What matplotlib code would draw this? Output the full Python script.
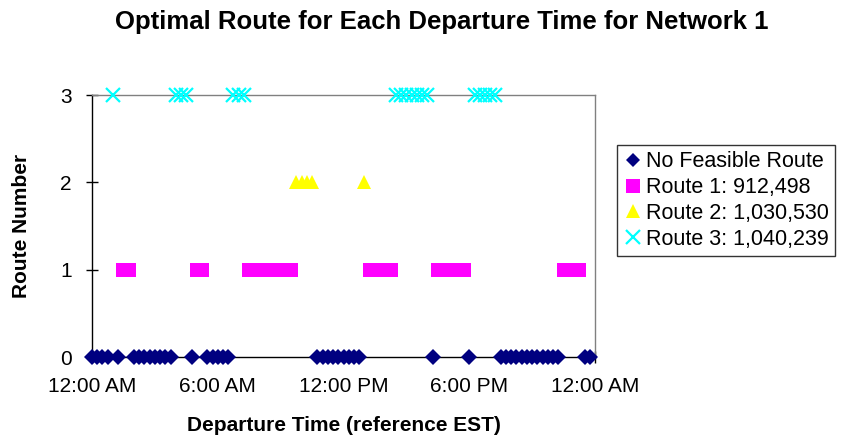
import numpy as np
import matplotlib.pyplot as plt

plt.rcParams['font.family'] = ['Liberation Sans', 'DejaVu Sans']

# route chosen for each 15-minute departure slot, starting 12:00 AM
# 0 = no feasible route, 1..3 = route number
route = [0, 0, 0, 0, 3, 0, 1, 1,
         0, 0, 0, 0, 0, 0, 0, 0,
         3, 3, 3, 0, 1, 1, 0, 0,
         0, 0, 0, 3, 3, 3, 1, 1,
         1, 1, 1, 1, 1, 1, 1, 2,
         2, 2, 2, 0, 0, 0, 0, 0,
         0, 0, 0, 0, 2, 1, 1, 1,
         1, 1, 3, 3, 3, 3, 3, 3,
         3, 0, 1, 1, 1, 1, 1, 1,
         0, 3, 3, 3, 3, 3, 0, 0,
         0, 0, 0, 0, 0, 0, 0, 0,
         0, 0, 1, 1, 1, 1, 0, 0]
slot_hours = 0.25
labels = ["No Feasible Route", "Route 1: 912,498",
          "Route 2: 1,030,530", "Route 3: 1,040,239"]
tick_hours = [0, 6, 12, 18, 24]
tick_labels = ["12:00 AM", "6:00 AM", "12:00 PM", "6:00 PM", "12:00 AM"]

route = np.array(route)
hours = np.arange(len(route)) * slot_hours

fig = plt.figure(figsize=(8.63, 4.38), dpi=100)
ax = fig.add_axes([0.1066, 0.1849, 0.5829, 0.5982])

styles = [
    dict(marker="D", color="#000080", markersize=7.8, markeredgewidth=0),
    dict(marker="s", color="#FF00FF", markersize=10.5, markeredgewidth=0),
    dict(marker="^", color="#FFFF00", markersize=10.5, markeredgewidth=0),
    dict(marker="x", color="#00FFFF", markersize=10, markeredgewidth=1.6),
]

for k in range(4):
    m = route == k
    ax.plot(hours[m], route[m], linestyle="none", label=labels[k],
            clip_on=False, zorder=3, **styles[k])

ax.set_xlim(0, 24)
ax.set_ylim(0, 3)
ax.set_xticks(tick_hours)
ax.set_xticklabels(tick_labels, fontsize=15)
ax.set_yticks([0, 1, 2, 3])
ax.set_yticklabels(["0", "1", "2", "3"], fontsize=15)
ax.tick_params(axis="both", direction="inout", length=9, width=1, color="black")
ax.tick_params(axis="x", pad=10)
ax.tick_params(axis="y", pad=10)

ax.spines["left"].set_color("black")
ax.spines["bottom"].set_color("black")
ax.spines["top"].set_color("#808080")
ax.spines["right"].set_color("#808080")
for s in ax.spines.values():
    s.set_linewidth(1)

ax.set_xlabel("Departure Time (reference EST)", fontsize=15, fontweight="bold", va="center")
ax.xaxis.set_label_coords(0.501, (357 - 425) / 262)
ax.set_ylabel("Route Number", fontsize=15, fontweight="bold", va="center")
ax.yaxis.set_label_coords((22 - 92) / 503, (357 - 226) / 262)

fig.text(442 / 863, 1 - 22 / 438, "Optimal Route for Each Departure Time for Network 1",
         ha="center", va="center", fontsize=18.5, fontweight="bold")

leg = fig.legend(loc="upper left", bbox_to_anchor=(617 / 863, 1 - 145 / 438),
                 fontsize=15.5, frameon=True, fancybox=False, edgecolor="black",
                 handlelength=0.9, handletextpad=0.15, borderpad=0.3,
                 labelspacing=0.22, markerscale=0.95, borderaxespad=0)
leg.get_frame().set_linewidth(1)

fig.savefig("out.png", dpi=100)
